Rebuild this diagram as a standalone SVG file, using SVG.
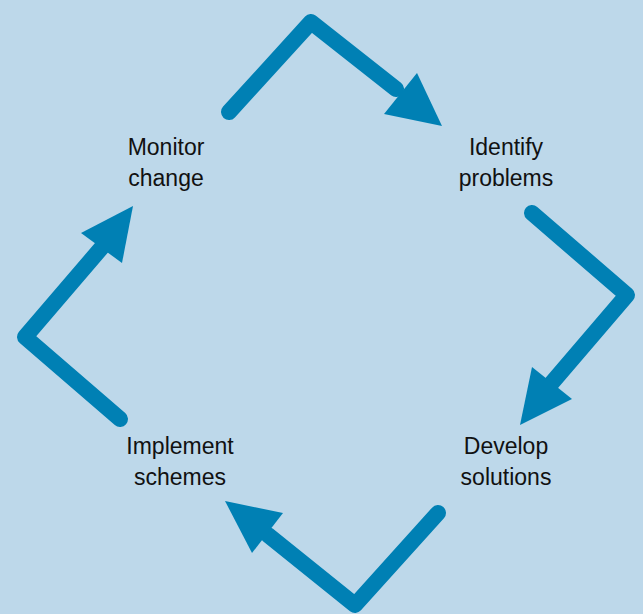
<svg xmlns="http://www.w3.org/2000/svg" width="643" height="614" viewBox="0 0 643 614">
<style>
.bg{fill:#bdd8ea}
.ln{fill:none;stroke:#0080b4;stroke-width:16;stroke-linecap:round;stroke-linejoin:round}
.hd{fill:#0080b4}
.t{font-family:"Liberation Sans",Arial,sans-serif;font-size:23px;fill:#111;text-anchor:middle}
</style>
<rect class="bg" x="0" y="0" width="643" height="614"/>
<g id="connectors">
<polyline class="ln" points="229,112 311,22 396,89"/>
<polygon class="hd" points="442,126 384,114 417,73"/>
<polyline class="ln" points="532,213 627,295 550,385"/>
<polygon class="hd" points="520,425 532,367 572,399"/>
<polyline class="ln" points="438,513 355,605 268,535"/>
<polygon class="hd" points="225,501 283,513 252,553"/>
<polyline class="ln" points="120,419 25,337 103,246"/>
<polygon class="hd" points="133,206 81,233 122,263"/>
</g>
<g id="monitor"><text class="t" x="166" y="155">Monitor</text><text class="t" x="166" y="186">change</text></g>
<g id="identify"><text class="t" x="506" y="155">Identify</text><text class="t" x="506" y="186">problems</text></g>
<g id="develop"><text class="t" x="506" y="454">Develop</text><text class="t" x="506" y="485">solutions</text></g>
<g id="implement"><text class="t" x="180" y="454">Implement</text><text class="t" x="180" y="485">schemes</text></g>
</svg>
